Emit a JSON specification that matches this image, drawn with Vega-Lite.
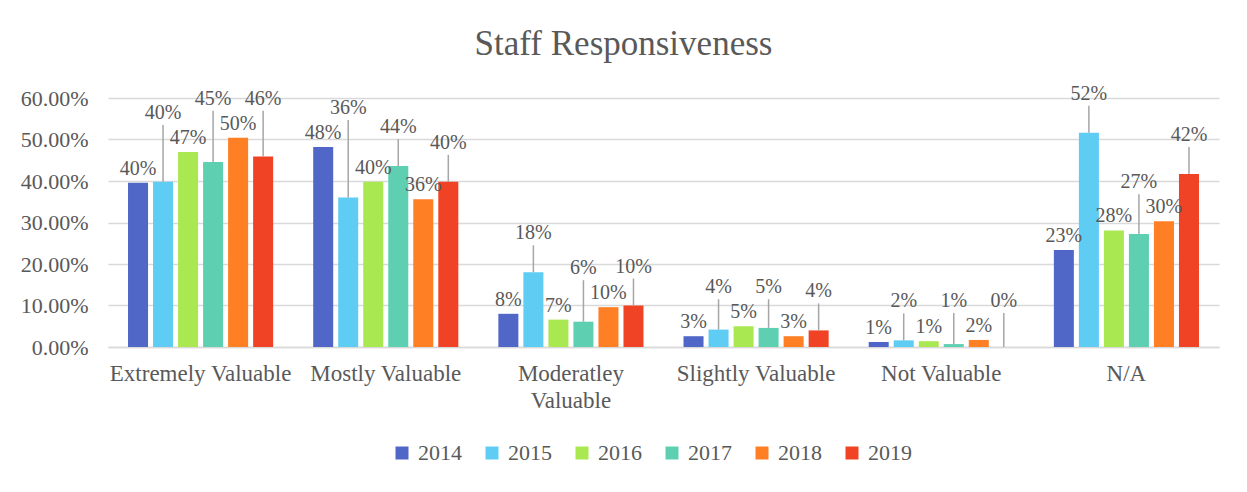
{
  "$schema": "https://vega.github.io/schema/vega-lite/v6.json",
  "width": 1111,
  "height": 249,
  "autosize": {"type": "none"},
  "padding": {"left": 108, "top": 98, "right": 28, "bottom": 145},
  "background": "white",
  "title": {
    "text": "Staff Responsiveness",
    "font": "Liberation Serif",
    "fontSize": 35,
    "fontWeight": "normal",
    "color": "#595959",
    "anchor": "middle",
    "dx": -40,
    "dy": 36,
    "baseline": "alphabetic",
    "offset": 30
  },
  "data": {
    "values": [
      {"category": "Extremely Valuable", "year": "2014", "value": 0.396},
      {"category": "Extremely Valuable", "year": "2015", "value": 0.398},
      {"category": "Extremely Valuable", "year": "2016", "value": 0.470},
      {"category": "Extremely Valuable", "year": "2017", "value": 0.446},
      {"category": "Extremely Valuable", "year": "2018", "value": 0.504},
      {"category": "Extremely Valuable", "year": "2019", "value": 0.459},
      {"category": "Mostly Valuable", "year": "2014", "value": 0.482},
      {"category": "Mostly Valuable", "year": "2015", "value": 0.360},
      {"category": "Mostly Valuable", "year": "2016", "value": 0.398},
      {"category": "Mostly Valuable", "year": "2017", "value": 0.436},
      {"category": "Mostly Valuable", "year": "2018", "value": 0.356},
      {"category": "Mostly Valuable", "year": "2019", "value": 0.398},
      {"category": "Moderatley Valuable", "year": "2014", "value": 0.080},
      {"category": "Moderatley Valuable", "year": "2015", "value": 0.180},
      {"category": "Moderatley Valuable", "year": "2016", "value": 0.066},
      {"category": "Moderatley Valuable", "year": "2017", "value": 0.061},
      {"category": "Moderatley Valuable", "year": "2018", "value": 0.096},
      {"category": "Moderatley Valuable", "year": "2019", "value": 0.100},
      {"category": "Slightly Valuable", "year": "2014", "value": 0.026},
      {"category": "Slightly Valuable", "year": "2015", "value": 0.042},
      {"category": "Slightly Valuable", "year": "2016", "value": 0.050},
      {"category": "Slightly Valuable", "year": "2017", "value": 0.046},
      {"category": "Slightly Valuable", "year": "2018", "value": 0.026},
      {"category": "Slightly Valuable", "year": "2019", "value": 0.040},
      {"category": "Not Valuable", "year": "2014", "value": 0.012},
      {"category": "Not Valuable", "year": "2015", "value": 0.016},
      {"category": "Not Valuable", "year": "2016", "value": 0.014},
      {"category": "Not Valuable", "year": "2017", "value": 0.007},
      {"category": "Not Valuable", "year": "2018", "value": 0.017},
      {"category": "Not Valuable", "year": "2019", "value": 0.0},
      {"category": "N/A", "year": "2014", "value": 0.234},
      {"category": "N/A", "year": "2015", "value": 0.516},
      {"category": "N/A", "year": "2016", "value": 0.281},
      {"category": "N/A", "year": "2017", "value": 0.272},
      {"category": "N/A", "year": "2018", "value": 0.303},
      {"category": "N/A", "year": "2019", "value": 0.417}
    ]
  },
  "encoding": {
    "x": {
      "field": "category",
      "type": "nominal",
      "sort": ["Extremely Valuable", "Mostly Valuable", "Moderatley Valuable", "Slightly Valuable", "Not Valuable", "N/A"],
      "scale": {"paddingInner": 0, "paddingOuter": 0},
      "axis": {
        "title": null,
        "labelAngle": 0,
        "ticks": false,
        "grid": false,
        "domainColor": "#D9D9D9",
        "domainWidth": 1.5,
        "labelFont": "Liberation Serif",
        "labelFontSize": 23,
        "labelColor": "#595959",
        "labelPadding": 15,
        "labelLineHeight": 27,
        "labelLimit": 0,
        "labelExpr": "datum.value == 'Moderatley Valuable' ? ['Moderatley', 'Valuable'] : datum.value"
      }
    },
    "xOffset": {
      "field": "year",
      "type": "nominal",
      "sort": ["2014", "2015", "2016", "2017", "2018", "2019"],
      "scale": {"paddingInner": 0.2, "paddingOuter": 0.8}
    }
  },
  "layer": [
    {
      "mark": {"type": "bar"},
      "encoding": {
        "y": {
          "field": "value",
          "type": "quantitative",
          "scale": {"domain": [0, 0.6], "nice": false},
          "axis": {
            "title": null,
            "values": [0, 0.1, 0.2, 0.3, 0.4, 0.5, 0.6],
            "format": ".2%",
            "ticks": false,
            "domain": false,
            "gridColor": "#D9D9D9",
            "gridWidth": 1.5,
            "labelFont": "Liberation Serif",
            "labelFontSize": 22,
            "labelColor": "#595959",
            "labelPadding": 20
          }
        },
        "color": {
          "field": "year",
          "type": "nominal",
          "scale": {
            "domain": ["2014", "2015", "2016", "2017", "2018", "2019"],
            "range": ["#5067C8", "#5ECCF3", "#A9E850", "#5ECFB1", "#FF7F24", "#F04224"]
          },
          "legend": {
            "title": null,
            "orient": "none",
            "legendX": 283,
            "legendY": 344,
            "direction": "horizontal",
            "columns": 6,
            "symbolType": "square",
            "symbolSize": 169,
            "symbolStrokeWidth": 0,
            "labelFont": "Liberation Serif",
            "labelFontSize": 22,
            "labelColor": "#595959",
            "labelOffset": 5,
            "columnPadding": 19,
            "padding": 0,
            "encode": {
              "labels": {
                "update": {
                  "font": {"value": "Liberation Serif"},
                  "fontSize": {"value": 22},
                  "fill": {"value": "#595959"}
                }
              }
            }
          }
        }
      }
    },
    {
      "transform": [{"filter": {"field": "year", "oneOf": ["2014", "2016", "2018"]}}],
      "mark": {
        "type": "text",
        "baseline": "bottom",
        "dy": -4,
        "font": "Liberation Serif",
        "fontSize": 20,
        "color": "#595959"
      },
      "encoding": {
        "y": {"field": "value", "type": "quantitative"},
        "text": {"field": "value", "type": "quantitative", "format": ".0%"}
      }
    },
    {
      "transform": [
        {"window": [{"op": "max", "field": "value", "as": "nmax"}], "groupby": ["category"], "sort": [{"field": "year"}], "frame": [-1, 1]},
        {"filter": {"field": "year", "oneOf": ["2015", "2017", "2019"]}}
      ],
      "layer": [
        {
          "mark": {"type": "rule", "color": "#A6A6A6", "strokeWidth": 1.5, "y2Offset": -27},
          "encoding": {
            "y": {"field": "value", "type": "quantitative"},
            "y2": {"field": "nmax"}
          }
        },
        {
          "mark": {
            "type": "text",
            "baseline": "bottom",
            "dy": -29,
            "font": "Liberation Serif",
            "fontSize": 20,
            "color": "#595959"
          },
          "encoding": {
            "y": {"field": "nmax", "type": "quantitative"},
            "text": {"field": "value", "type": "quantitative", "format": ".0%"}
          }
        }
      ]
    }
  ],
  "config": {
    "font": "Liberation Serif",
    "view": {"stroke": null},
    "legend": {"labelFont": "Liberation Serif"}
  }
}
